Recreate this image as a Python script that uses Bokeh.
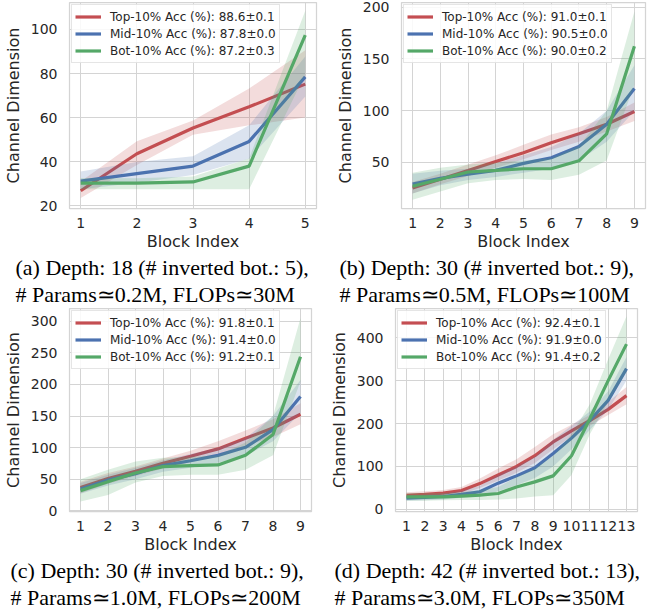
from bokeh.plotting import figure
from bokeh.models import FixedTicker, Title, Range1d
from bokeh.layouts import column, row
from bokeh.embed import file_html
from bokeh.resources import INLINE

# ---------------- data ----------------
blocks_a = [1, 2, 3, 4, 5]
top_a = [26.8, 43.6, 55.3, 64.9, 75.2]
top_a_lo = [23.5, 38.5, 52.2, 56.5, 60.0]
top_a_hi = [31.0, 49.3, 58.7, 73.2, 90.6]
mid_a = [31.2, 34.6, 38.0, 49.2, 78.5]
mid_a_lo = [27.5, 30.4, 34.0, 41.3, 69.6]
mid_a_hi = [35.5, 39.9, 42.5, 56.5, 87.7]
bot_a = [30.3, 30.3, 30.8, 38.0, 97.4]
bot_a_lo = [27.5, 27.5, 27.5, 27.5, 79.7]
bot_a_hi = [32.6, 32.5, 33.3, 41.5, 108.5]
labels_a = ["Top-10% Acc (%): 88.6±0.1", "Mid-10% Acc (%): 87.8±0.0", "Bot-10% Acc (%): 87.2±0.3"]
yticks_a = [20, 40, 60, 80, 100]

blocks_b = [1, 2, 3, 4, 5, 6, 7, 8, 9]
top_b = [25.4, 33.7, 42.3, 51.0, 59.3, 69.1, 77.7, 87.0, 99.3]
top_b_lo = [20, 29, 37, 45, 53, 62, 70, 80, 90]
top_b_hi = [31, 39, 48, 57, 67, 77, 84, 94, 108]
mid_b = [29.1, 34.6, 38.6, 42.3, 49.1, 54.6, 65.4, 87.0, 121.5]
mid_b_lo = [20, 28, 33, 36, 40, 44, 52, 70, 100]
mid_b_hi = [39, 42, 44, 49, 57, 65, 78, 100, 144]
bot_b = [27.0, 33.7, 40.8, 42.3, 43.9, 43.9, 51.6, 77.7, 162.4]
bot_b_lo = [14, 22, 30, 33, 34, 33, 38, 52, 125]
bot_b_hi = [40, 45, 48, 50, 52, 54, 66, 100, 196]
labels_b = ["Top-10% Acc (%): 91.0±0.1", "Mid-10% Acc (%): 90.5±0.0", "Bot-10% Acc (%): 90.0±0.2"]
yticks_b = [50, 100, 150, 200]

blocks_c = [1, 2, 3, 4, 5, 6, 7, 8, 9]
top_c = [37.0, 51.3, 62.4, 75.1, 86.3, 98.0, 114.7, 131.0, 152.8]
top_c_lo = [28, 43, 55, 67, 77, 88, 103, 117, 137]
top_c_hi = [46, 60, 70, 83, 95, 110, 127, 145, 170]
mid_c = [34.5, 48.7, 58.9, 71.6, 79.2, 87.8, 100.5, 128.4, 180.7]
mid_c_lo = [27, 40, 50, 62, 68, 76, 87, 110, 155]
mid_c_hi = [44, 57, 68, 80, 90, 100, 115, 150, 207]
bot_c = [32.0, 46.2, 59.9, 70.0, 71.6, 72.6, 87.8, 120.8, 243.7]
bot_c_lo = [15, 25, 45, 55, 57, 57, 65, 88, 205]
bot_c_hi = [50, 65, 78, 84, 85, 88, 108, 150, 305]
labels_c = ["Top-10% Acc (%): 91.8±0.1", "Mid-10% Acc (%): 91.4±0.0", "Bot-10% Acc (%): 91.2±0.1"]
yticks_c = [0, 50, 100, 150, 200, 250, 300]

blocks_d = [1, 2, 3, 4, 5, 6, 7, 8, 9, 10, 11, 12, 13]
top_d = [32.9, 35, 38, 44, 60, 80, 100, 125, 157, 183, 207, 233, 265]
top_d_lo = [27, 29, 31, 36, 50, 67, 85, 108, 140, 170, 195, 220, 245]
top_d_hi = [40, 42, 45, 52, 72, 95, 117, 145, 175, 197, 220, 250, 285]
mid_d = [26, 27.7, 30, 35, 41, 61, 78, 97, 130, 166, 207, 254, 328]
mid_d_lo = [20, 21, 23, 27, 30, 42, 56, 73, 100, 140, 185, 232, 300]
mid_d_hi = [32, 34, 37, 43, 55, 80, 100, 122, 162, 195, 228, 275, 355]
bot_d = [29, 29, 29, 31, 33, 37, 52, 64, 78, 125, 211, 300, 385]
bot_d_lo = [20, 20, 21, 22, 22, 23, 25, 30, 33, 80, 175, 250, 320]
bot_d_hi = [38, 38, 38, 40, 45, 52, 75, 95, 125, 175, 245, 350, 450]
labels_d = ["Top-10% Acc (%): 92.4±0.1", "Mid-10% Acc (%): 91.9±0.0", "Bot-10% Acc (%): 91.4±0.2"]
yticks_d = [0, 100, 200, 300, 400]

captions_a = ["(a) Depth: 18 (# inverted bot.: 5),", "# Params\u22430.2M, FLOPs\u224330M"]
captions_b = ["(b) Depth: 30 (# inverted bot.: 9),", "# Params\u22430.5M, FLOPs\u2243100M"]
captions_c = ["(c) Depth: 30 (# inverted bot.: 9),", "# Params\u22431.0M, FLOPs\u2243200M"]
captions_d = ["(d) Depth: 42 (# inverted bot.: 13),", "# Params\u22433.0M, FLOPs\u2243350M"]

COLORS = ["#C44E52", "#4C72B0", "#55A868"]
TXT = "#262626"
GRID = "#d4d4d4"


def panel(x, series, labels, yticks, xr, yr, fw, fh, bl, br, bt, caps, cap_off):
    p = figure(frame_width=fw, frame_height=fh, x_range=Range1d(*xr), y_range=Range1d(*yr),
               output_backend="svg", toolbar_location=None,
               min_border_left=bl, min_border_right=br, min_border_top=bt, min_border_bottom=0,
               background_fill_color="white", border_fill_color="white")
    p.outline_line_color = GRID
    p.outline_line_width = 1.25
    for (y, lo, hi), lab, c in zip(series, labels, COLORS):
        p.line(x, y, line_color=c, line_width=3.2, legend_label=lab)
        p.varea(x=x, y1=lo, y2=hi, fill_color=c, fill_alpha=0.2)
    for ax in (p.xaxis[0], p.yaxis[0]):
        ax.axis_line_color = None
        ax.major_tick_line_color = None
        ax.minor_tick_line_color = None
        ax.major_label_text_font = "DejaVu Sans"
        ax.major_label_text_font_size = "14px"
        ax.major_label_text_color = TXT
        ax.axis_label_text_font = "DejaVu Sans"
        ax.axis_label_text_font_size = "16px"
        ax.axis_label_text_font_style = "normal"
        ax.axis_label_text_color = TXT
    p.xaxis.ticker = FixedTicker(ticks=x)
    p.yaxis.ticker = FixedTicker(ticks=yticks)
    p.xaxis.axis_label = "Block Index"
    p.yaxis.axis_label = "Channel Dimension"
    p.xaxis.major_label_standoff = 3
    p.xaxis.axis_label_standoff = 1
    p.yaxis.major_label_standoff = 6
    p.yaxis.axis_label_standoff = 5
    p.xgrid.grid_line_color = GRID
    p.ygrid.grid_line_color = GRID
    p.xgrid.grid_line_width = 1
    p.ygrid.grid_line_width = 1
    lg = p.legend[0]
    lg.location = "top_left"
    lg.margin = 2
    lg.padding = 3
    lg.spacing = 0
    lg.glyph_width = 26
    lg.glyph_height = 17
    lg.label_height = 17
    lg.label_standoff = 9
    lg.label_text_font = "DejaVu Sans"
    lg.label_text_font_size = "12px"
    lg.label_text_color = TXT
    lg.border_line_color = "#cccccc"
    lg.border_line_width = 1
    lg.background_fill_alpha = 0.85
    p.add_layout(Title(text="\n".join(caps), align="left", offset=cap_off, standoff=0,
                       text_font="Liberation Serif", text_font_size="22px",
                       text_line_height=1.05,
                       text_font_style="normal", text_color="black"), "below")
    return p


pa = panel(blocks_a, [(top_a, top_a_lo, top_a_hi), (mid_a, mid_a_lo, mid_a_hi), (bot_a, bot_a_lo, bot_a_hi)],
           labels_a, yticks_a, (0.8, 5.2), (18.75, 112.25), 247, 206, 57, 13, 2, captions_a, -54)
pb = panel(blocks_b, [(top_b, top_b_lo, top_b_hi), (mid_b, mid_b_lo, mid_b_hi), (bot_b, bot_b_lo, bot_b_hi)],
           labels_b, yticks_b, (0.6, 9.4), (5.5, 204.6), 244, 206, 72, 2, 2, captions_b, -62)
pc = panel(blocks_c, [(top_c, top_c_lo, top_c_hi), (mid_c, mid_c_lo, mid_c_hi), (bot_c, bot_c_lo, bot_c_hi)],
           labels_c, yticks_c, (0.6, 9.4), (-1, 320), 242, 203, 62, 13, 2, captions_c, -59)
pd_ = panel(blocks_d, [(top_d, top_d_lo, top_d_hi), (mid_d, mid_d_lo, mid_d_hi), (bot_d, bot_d_lo, bot_d_hi)],
            labels_d, yticks_d, (0.4, 13.6), (-5, 468), 242, 203, 71, 5, 2, captions_d, -61)

layout = column(row(pa, pb, spacing=0), row(pc, pd_, spacing=0), spacing=0)

open("out.html", "w").write(file_html(layout, INLINE))
